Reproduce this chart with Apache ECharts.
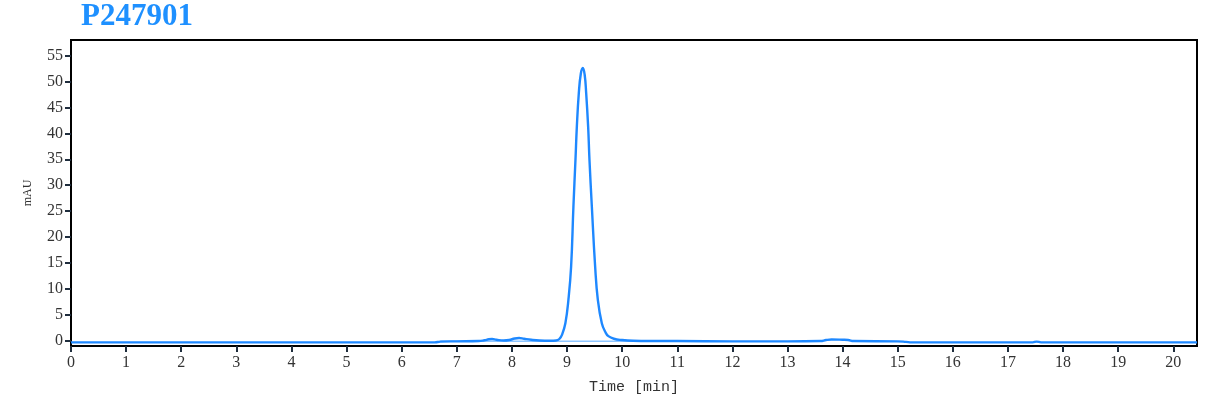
<!DOCTYPE html>
<html>
<head>
<meta charset="utf-8">
<script src="https://cdn.jsdelivr.net/npm/echarts@6/dist/echarts.min.js"></script>
<style>
html,body{margin:0;padding:0;background:#fff;}
#chart{width:1216px;height:415px;}
</style>
</head>
<body>
<div id="chart"></div>
<script>
// Chromatogram signal (time in min, absorbance in mAU)
const times = [0, 3, 6.6, 6.7, 7.0, 7.4, 7.5, 7.58, 7.64, 7.72, 7.85, 7.95, 8.05, 8.13, 8.22, 8.35, 8.5, 8.7, 8.8, 8.86, 8.91, 8.97, 9.025, 9.074, 9.116, 9.153, 9.178, 9.214, 9.25, 9.287, 9.32, 9.347, 9.383, 9.407, 9.45, 9.51, 9.559, 9.631, 9.70, 9.75, 9.85, 10.0, 10.2, 10.5, 11, 12, 13, 13.6, 13.7, 13.8, 14.0, 14.1, 14.2, 15.0, 15.15, 15.25, 17.0, 17.45, 17.52, 17.6, 19, 20.43];
const signal = [-0.3, -0.3, -0.3, -0.15, -0.1, -0.05, 0.1, 0.3, 0.35, 0.2, 0.05, 0.15, 0.45, 0.55, 0.4, 0.2, 0.05, 0.0, 0.05, 0.35, 1.2, 3.4, 7.9, 14.3, 25.9, 34.9, 41.3, 47.8, 51.5, 52.6, 51.3, 47.8, 41.3, 34.9, 25.9, 14.3, 7.9, 3.4, 1.6, 0.9, 0.4, 0.15, 0.0, -0.05, -0.05, -0.1, -0.1, -0.05, 0.15, 0.25, 0.2, 0.15, -0.05, -0.1, -0.2, -0.3, -0.3, -0.3, -0.15, -0.3, -0.3, -0.3];
// Drawn baseline under the small peaks
const baseTimes = [6.7, 10.4];
const baseValues = [-0.1, -0.1];

const xTicks = [0,1,2,3,4,5,6,7,8,9,10,11,12,13,14,15,16,17,18,19,20];
const yTicks = [0,5,10,15,20,25,30,35,40,45,50,55];
const titleText = 'P247901';
const xName = 'Time [min]';
const yName = 'mAU';

const chart = echarts.init(document.getElementById('chart'), null, {renderer: 'canvas'});
const serif = '"Liberation Serif", "DejaVu Serif", serif';
chart.setOption({
  animation: false,
  title: {
    text: titleText,
    left: 76, top: -4,
    textStyle: {fontFamily: serif, fontWeight: 'bold', fontSize: 31, color: '#1e90ff'}
  },
  grid: {
    left: 71, right: 19, top: 40, bottom: 69,
    show: true, borderColor: '#000', borderWidth: 2, backgroundColor: 'transparent'
  },
  xAxis: {
    type: 'value', min: 0, max: 20.43,
    name: xName, nameLocation: 'middle', nameGap: 34,
    nameTextStyle: {fontFamily: '"Liberation Mono", monospace', fontSize: 15, color: '#333'},
    axisLine: {show: true, onZero: false, lineStyle: {color: '#000', width: 2}},
    axisTick: {show: true, inside: false, length: 6, customValues: xTicks, lineStyle: {color: '#1f2d3d', width: 2}},
    axisLabel: {customValues: xTicks, margin: 9, fontFamily: serif, fontSize: 16, color: '#333'},
    splitLine: {show: false}
  },
  yAxis: {
    type: 'value', min: -1, max: 58,
    name: yName, nameLocation: 'middle', nameGap: 37, nameRotate: 90,
    nameTextStyle: {fontFamily: serif, fontSize: 12, color: '#333'},
    axisLine: {show: true, onZero: false, lineStyle: {color: '#000', width: 2}},
    axisTick: {show: true, inside: false, length: 6, customValues: yTicks, lineStyle: {color: '#1f2d3d', width: 2}},
    axisLabel: {customValues: yTicks, margin: 8, fontFamily: serif, fontSize: 16, color: '#333'},
    splitLine: {show: false}
  },
  series: [
    {
      type: 'line', name: 'baseline',
      data: baseTimes.map((t, i) => [t, baseValues[i]]),
      showSymbol: false, lineStyle: {color: '#8ec5ff', width: 1.5}, z: 1
    },
    {
      type: 'line', name: 'signal',
      data: times.map((t, i) => [t, signal[i]]),
      showSymbol: false, smooth: 0.45,
      lineStyle: {color: '#1e88ff', width: 2.4}, z: 2
    }
  ]
});
</script>
</body>
</html>
